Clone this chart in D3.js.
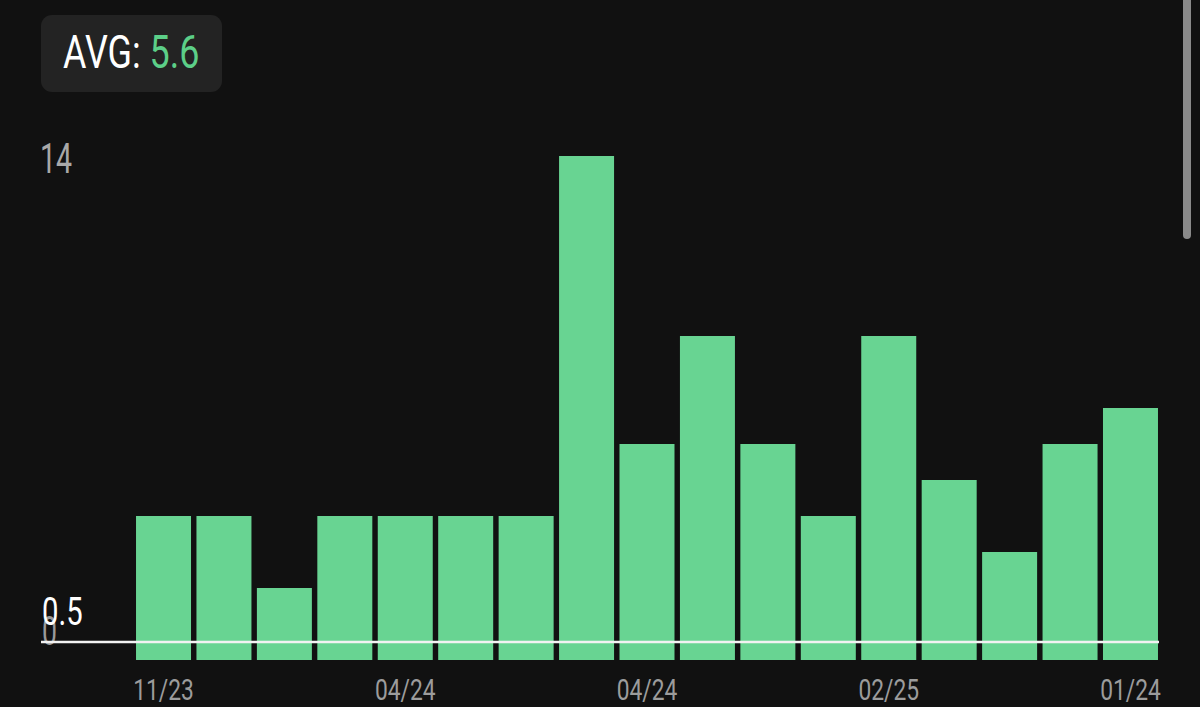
<!DOCTYPE html>
<html><head><meta charset="utf-8">
<script src="https://cdn.jsdelivr.net/npm/d3@7"></script>
<style>
html,body{margin:0;padding:0;background:#111111;overflow:hidden;}
svg{display:block;}
</style></head>
<body>
<script>
const values = [4,4,2,4,4,4,4,14,6,9,6,4,9,5,3,6,7];
const xTickLabels = ["11/23","","","","04/24","","","","04/24","","","","02/25","","","","01/24"];
const refLineValue = 0.5;
const refLineLabel = "0.5";
const avgLabel = "AVG:";
const avgValue = (d3.sum(values)/values.length).toFixed(1);

const W = 1200, H = 707;
const FONT = "Roboto, 'Noto Sans', sans-serif";
const svg = d3.select("body").append("svg").attr("width", W).attr("height", H);
svg.append("rect").attr("width", W).attr("height", H).attr("fill", "#111111");

const x = d3.scaleBand().domain(d3.range(values.length)).range([133.3, 1160.7]).paddingInner(0.09).paddingOuter(0.045);
const y = d3.scaleLinear().domain([0, 14]).range([660, 156]);

function condense(sel, k) {
  sel.each(function() {
    const n = this.getComputedTextLength();
    if (n > 0) d3.select(this).attr("textLength", n * k).attr("lengthAdjust", "spacingAndGlyphs");
  });
}

// bars
svg.append("g").selectAll("rect").data(values).join("rect")
  .attr("x", (d,i) => x(i)).attr("width", x.bandwidth())
  .attr("y", d => y(d)).attr("height", d => y(0) - y(d))
  .attr("fill", "#68d492");

// y labels
svg.append("text").attr("x", 40).attr("y", y(14) + 17)
  .attr("font-family", FONT).attr("font-size", 42).attr("fill", "#a8a8a8").text("14")
  .call(condense, 0.68);
svg.append("text").attr("x", 42).attr("y", y(0) - 15)
  .attr("font-family", FONT).attr("font-size", 41).attr("fill", "#9a9a9a").text("0")
  .call(condense, 0.65);

// reference line
svg.append("line").attr("x1", 41).attr("x2", 1159)
  .attr("y1", y(refLineValue)).attr("y2", y(refLineValue))
  .attr("stroke", "#f2f2f2").attr("stroke-width", 2.5);
svg.append("text").attr("x", 42).attr("y", y(refLineValue) - 17)
  .attr("font-family", FONT).attr("font-size", 39).attr("fill", "#ffffff").text(refLineLabel)
  .call(condense, 0.75);

// x labels
svg.append("g").selectAll("text").data(xTickLabels).join("text")
  .attr("x", (d,i) => x(i) + x.bandwidth()/2).attr("y", 700)
  .attr("text-anchor", "middle").attr("font-family", FONT).attr("font-size", 30)
  .attr("fill", "#9c9c9c").text(d => d)
  .call(condense, 0.76);

// AVG box
svg.append("rect").attr("x", 41).attr("y", 15).attr("width", 181).attr("height", 77)
  .attr("rx", 11).attr("fill", "#232323");
const avg = svg.append("text").attr("x", 63).attr("y", 68)
  .attr("font-family", FONT).attr("font-size", 46);
avg.append("tspan").attr("fill", "#ffffff").text(avgLabel + " ");
avg.append("tspan").attr("fill", "#5ccf88").text(avgValue);
avg.call(condense, 0.78);

// scrollbar
svg.append("rect").attr("x", 1183).attr("y", -10).attr("width", 8).attr("height", 249)
  .attr("rx", 4).attr("fill", "#8a8a8a");
</script>
</body></html>
